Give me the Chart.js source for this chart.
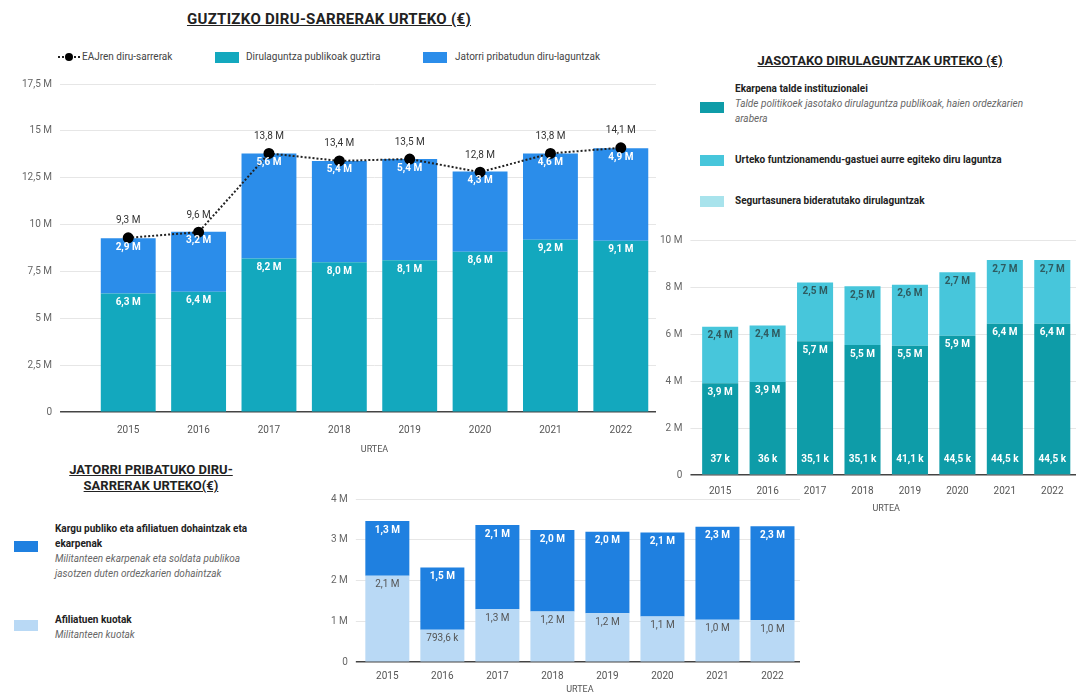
<!DOCTYPE html>
<html>
<head>
<meta charset="utf-8">
<script src="https://cdn.jsdelivr.net/npm/chart.js@4.4.1/dist/chart.umd.min.js"></script>
<style>
  body { margin: 0; width: 1076px; height: 699px; background: #fff; font-family: Roboto, sans-serif; position: relative; overflow: hidden; color: #333; }
  canvas { position: absolute; }
  .title { position: absolute; font-weight: bold; text-decoration: underline; color: #222; font-size: 13px; text-align: center; line-height: 16px; }
  .lg { position: absolute; font-size: 10px; color: #444; white-space: nowrap; }
  .sw { position: absolute; width: 24px; height: 11px; }
  .lt { position: absolute; font-size: 10px; line-height: 15px; color: #222; }
  .lt b { font-weight: bold; }
  .lt i { color: #666; }
</style>
</head>
<body>

<div class="title" style="left:149px; top:11px; width:360px; font-size:15px; letter-spacing:0.3px;">GUZTIZKO DIRU-SARRERAK URTEKO (€)</div>
<!-- legend of the main chart -->
<div class="lg" style="left:58px; top:51px;">
  <svg width="22" height="12" style="position:absolute; left:0; top:0"><line x1="0" y1="6" x2="22" y2="6" stroke="#222" stroke-width="2" stroke-dasharray="2,2"/><circle cx="11" cy="6" r="4" fill="#000"/></svg>
  <span style="position:absolute; left:24px; top:0;">EAJren diru-sarrerak</span>
</div>
<div class="sw" style="left:215px; top:52px; background:#13A8BE;"></div>
<div class="lg" style="left:246px; top:51px;">Dirulaguntza publikoak guztira</div>
<div class="sw" style="left:423px; top:52px; background:#2B8DEA;"></div>
<div class="lg" style="left:455px; top:51px;">Jatorri pribatudun diru-laguntzak</div>

<div class="title" style="left:730px; top:53px; width:300px;">JASOTAKO DIRULAGUNTZAK URTEKO (€)</div>
<div class="sw" style="left:700px; top:102px; background:#0E9CA8;"></div>
<div class="lt" style="left:735px; top:81px; width:312px;"><b>Ekarpena talde instituzionalei</b><br><i>Talde politikoek jasotako dirulaguntza publikoak, haien ordezkarien arabera</i></div>
<div class="sw" style="left:700px; top:155px; background:#47C6DB;"></div>
<div class="lt" style="left:735px; top:152px;"><b>Urteko funtzionamendu-gastuei aurre egiteko diru laguntza</b></div>
<div class="sw" style="left:700px; top:196px; background:#A8E3EC;"></div>
<div class="lt" style="left:735px; top:193px;"><b>Segurtasunera bideratutako dirulaguntzak</b></div>

<div class="title" style="left:40px; top:462px; width:222px;">JATORRI PRIBATUKO DIRU-<br>SARRERAK URTEKO(€)</div>
<div class="sw" style="left:14px; top:541px; background:#1F80E0;"></div>
<div class="lt" style="left:55px; top:521px; width:205px;"><b>Kargu publiko eta afiliatuen dohaintzak eta ekarpenak</b><br><i>Militanteen ekarpenak eta soldata publikoa jasotzen duten ordezkarien dohaintzak</i></div>
<div class="sw" style="left:14px; top:620px; background:#B9D9F5;"></div>
<div class="lt" style="left:55px; top:612px;"><b>Afiliatuen kuotak</b><br><i>Militanteen kuotak</i></div>

<canvas id="mainChart" width="670" height="460" style="left:0; top:0;"></canvas>
<canvas id="subsChart" width="436" height="330" style="left:640px; top:200px;"></canvas>
<canvas id="privChart" width="510" height="229" style="left:300px; top:470px;"></canvas>

<script>
// years shared by all three charts
const years = ['2015', '2016', '2017', '2018', '2019', '2020', '2021', '2022'];

// main chart (millions of €)
const publicTotal = [6.33, 6.42, 8.2, 8.0, 8.1, 8.56, 9.2, 9.14];
const privateTotal = [2.94, 3.2, 5.6, 5.4, 5.4, 4.28, 4.6, 4.94];
const eajIncome = [9.3, 9.6, 13.8, 13.4, 13.5, 12.8, 13.8, 14.1];
const mainTicks = [0, 2.5, 5, 7.5, 10, 12.5, 15, 17.5];

// received subsidies (millions of €)
const securitySubs = [0.037, 0.036, 0.0351, 0.0351, 0.0411, 0.0445, 0.0445, 0.0445];
const groupContrib = [3.87, 3.93, 5.66, 5.5, 5.46, 5.88, 6.4, 6.4];
const runningSubs = [2.4, 2.4, 2.5, 2.5, 2.6, 2.7, 2.7, 2.7];
const subsTicks = [0, 2, 4, 6, 8, 10];

// private income (millions of €)
const memberFees = [2.12, 0.7936, 1.3, 1.24, 1.2, 1.12, 1.04, 1.03];
const donations = [1.34, 1.53, 2.06, 2.0, 2.0, 2.06, 2.28, 2.3];
const privTicks = [0, 1, 2, 3, 4];

Chart.defaults.font.family = 'Roboto, sans-serif';
Chart.defaults.font.size = 10;
Chart.defaults.color = '#666';

function comma(n) {
    return String(n).replace('.', ',');
}

// 9.3 -> "9,3 M", 0.0351 -> "35,1 k"
function fmtValue(v) {
    if (v >= 1) return comma(v.toFixed(1)) + ' M';
    let k = Math.round(v * 10000) / 10;
    return comma(k) + ' k';
}

function fmtTick(v) {
    return v === 0 ? '0' : comma(v) + ' M';
}

// value labels on bars and points
const valueLabels = {
    id: 'valueLabels',
    afterDatasetsDraw(chart) {
        const ctx = chart.ctx;
        chart.data.datasets.forEach((ds, i) => {
            const meta = chart.getDatasetMeta(i);
            ctx.save();
            ctx.font = ds.labelFont || 'bold 10px Roboto';
            ctx.fillStyle = ds.labelColor || '#fff';
            ctx.textAlign = 'center';
            ctx.textBaseline = 'middle';
            meta.data.forEach((el, j) => {
                let y;
                if (ds.labelPos === 'above') y = el.y - 17;
                else if (ds.labelPos === 'base') y = el.base - 15;
                else y = el.y + 9;
                ctx.fillText(fmtValue(ds.data[j]), el.x, y);
            });
            ctx.restore();
        });
    }
};

function yScale(ticks, gapLeft) {
    return {
        stacked: true,
        min: 0,
        max: ticks[ticks.length - 1],
        afterBuildTicks: axis => { axis.ticks = ticks.map(v => ({ value: v })); },
        ticks: { callback: v => fmtTick(v), padding: 8, color: '#666' },
        border: { display: false },
        grid: {
            color: c => c.tick && c.tick.value === 0 ? '#444' : '#e6e6e6',
            tickColor: c => c.tick && c.tick.value === 0 ? '#444' : '#e6e6e6',
            lineWidth: c => c.tick && c.tick.value === 0 ? 1.5 : 1,
            tickLength: gapLeft
        }
    };
}

function xScale(tickPad, titlePad) {
    return {
        stacked: true,
        grid: { display: false, drawTicks: false },
        border: { display: false },
        ticks: { padding: tickPad, color: '#555' },
        title: { display: true, text: 'URTEA', font: { size: 9 }, color: '#555', padding: { top: titlePad, bottom: 0 } }
    };
}

new Chart(document.getElementById('mainChart'), {
    type: 'bar',
    data: {
        labels: years,
        datasets: [{
            type: 'line',
            label: 'EAJren diru-sarrerak',
            data: eajIncome,
            stack: 'line',
            order: 0,
            borderColor: '#222',
            borderWidth: 2,
            borderDash: [2, 2],
            pointRadius: 4.5,
            pointBackgroundColor: '#000',
            pointBorderColor: '#000',
            fill: false,
            labelPos: 'above',
            labelColor: '#333',
            labelFont: '10px Roboto'
        }, {
            label: 'Dirulaguntza publikoak guztira',
            data: publicTotal,
            stack: 'bars',
            order: 1,
            backgroundColor: '#13A8BE'
        }, {
            label: 'Jatorri pribatudun diru-laguntzak',
            data: privateTotal,
            stack: 'bars',
            order: 2,
            backgroundColor: '#2B8DEA'
        }]
    },
    options: {
        responsive: false,
        animation: false,
        categoryPercentage: 1,
        barPercentage: 0.78,
        layout: { padding: { top: 84, left: 14, right: 14, bottom: 5 } },
        plugins: { legend: { display: false }, tooltip: { enabled: false } },
        scales: { x: xScale(12, -4), y: yScale(mainTicks, 33) }
    },
    plugins: [valueLabels]
});

new Chart(document.getElementById('subsChart'), {
    type: 'bar',
    data: {
        labels: years,
        datasets: [{
            label: 'Segurtasunera bideratutako dirulaguntzak',
            data: securitySubs,
            backgroundColor: '#A8E3EC',
            labelPos: 'base'
        }, {
            label: 'Ekarpena talde instituzionalei',
            data: groupContrib,
            backgroundColor: '#0E9CA8'
        }, {
            label: 'Urteko funtzionamendu-gastuei aurre egiteko diru laguntza',
            data: runningSubs,
            backgroundColor: '#47C6DB',
            labelColor: '#2f5b60'
        }]
    },
    options: {
        responsive: false,
        animation: false,
        categoryPercentage: 1,
        barPercentage: 0.76,
        layout: { padding: { top: 40, left: 12, right: 0, bottom: 16 } },
        plugins: { legend: { display: false }, tooltip: { enabled: false } },
        scales: { x: xScale(10, -4), y: yScale(subsTicks, 6) }
    },
    plugins: [valueLabels]
});

new Chart(document.getElementById('privChart'), {
    type: 'bar',
    data: {
        labels: years,
        datasets: [{
            label: 'Afiliatuen kuotak',
            data: memberFees,
            backgroundColor: '#B9D9F5',
            labelColor: '#555',
            labelFont: '10px Roboto'
        }, {
            label: 'Kargu publiko eta afiliatuen dohaintzak eta ekarpenak',
            data: donations,
            backgroundColor: '#1F80E0'
        }]
    },
    options: {
        responsive: false,
        animation: false,
        categoryPercentage: 1,
        barPercentage: 0.8,
        layout: { padding: { top: 29, left: 23, right: 10, bottom: 4 } },
        plugins: { legend: { display: false }, tooltip: { enabled: false } },
        scales: { x: xScale(8, -6), y: yScale(privTicks, 4) }
    },
    plugins: [valueLabels]
});
</script>
</body>
</html>
